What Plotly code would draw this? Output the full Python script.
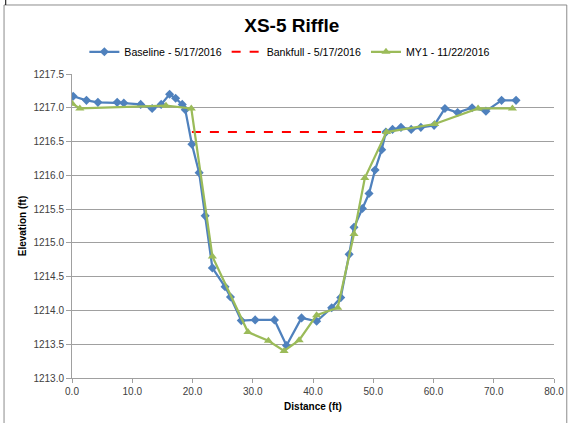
import plotly.graph_objects as go

# Survey stations (ft) and elevations (ft)
baseline_x = [0.2, 2.4, 4.3, 7.5, 8.6, 11.4, 13.3, 14.8, 16.2, 17.2, 18.3, 18.8,
              19.9, 21.1, 22.1, 23.3, 25.4, 26.3, 28.1, 30.4, 33.6, 35.6, 38.1,
              40.6, 43.1, 44.6, 46.0, 46.8, 48.2, 49.3, 50.3, 51.4, 52.1, 53.2,
              54.6, 56.3, 57.9, 60.1, 61.9, 64.0, 66.4, 68.7, 71.3, 73.7]
baseline_y = [1217.17, 1217.11, 1217.08, 1217.08, 1217.07, 1217.05, 1216.99,
              1217.05, 1217.20, 1217.14, 1217.05, 1216.97, 1216.46, 1216.04,
              1215.40, 1214.63, 1214.35, 1214.20, 1213.85, 1213.86, 1213.86,
              1213.48, 1213.89, 1213.84, 1214.04, 1214.19, 1214.83, 1215.23,
              1215.51, 1215.73, 1216.08, 1216.38, 1216.64, 1216.68, 1216.71,
              1216.68, 1216.71, 1216.74, 1216.99, 1216.93, 1217.00, 1216.95,
              1217.11, 1217.11]

bankfull_x = [19.9, 52.1]
bankfull_y = [1216.64, 1216.64]

my1_x = [0.05, 1.3, 15.6, 19.8, 23.3, 29.2, 32.6, 35.2, 37.7, 40.6, 44.1,
         46.8, 48.6, 52.2, 60.2, 67.4, 73.1]
my1_y = [1217.06, 1216.99, 1217.03, 1216.99, 1214.80, 1213.68, 1213.55,
         1213.40, 1213.56, 1213.93, 1214.04, 1215.13, 1215.96, 1216.64,
         1216.76, 1216.99, 1216.99]

x_ticks = [0, 10, 20, 30, 40, 50, 60, 70, 80]
y_ticks = [1213.0, 1213.5, 1214.0, 1214.5, 1215.0, 1215.5, 1216.0, 1216.5, 1217.0, 1217.5]

FONT = "Liberation Sans, Arial, sans-serif"
TEXT = "#404040"
GRID = "#A0A0A0"

fig = go.Figure()
fig.add_trace(go.Scatter(
    x=baseline_x, y=baseline_y, mode="lines+markers",
    name="Baseline - 5/17/2016",
    line=dict(color="#4F81BD", width=2.25),
    marker=dict(symbol="diamond", size=7, color="#4F81BD"),
))
fig.add_trace(go.Scatter(
    x=bankfull_x, y=bankfull_y, mode="lines",
    name="Bankfull - 5/17/2016",
    line=dict(color="#FF0000", width=2, dash="dash"),
))
fig.add_trace(go.Scatter(
    x=my1_x, y=my1_y, mode="lines+markers",
    name="MY1 - 11/22/2016",
    line=dict(color="#9BBB59", width=2.25),
    marker=dict(symbol="triangle-up", size=8, color="#9BBB59"),
))

# outer chart frame
fig.add_shape(type="rect", xref="paper", yref="paper",
              x0=-0.141, x1=1.0265, y0=-0.15, y1=1.227,
              line=dict(color="#8C8C8C", width=1), layer="above")
fig.add_shape(type="line", xref="paper", yref="paper",
              x0=-0.1375, x1=-0.1375, y0=1.227, y1=1.25,
              line=dict(color="#000000", width=1), layer="above")

fig.update_layout(
    width=568, height=423,
    margin=dict(l=72, r=14, t=74, b=45, autoexpand=False),
    paper_bgcolor="white", plot_bgcolor="white",
    font=dict(family=FONT, size=10, color=TEXT),
    title=dict(text="<b>XS-5 Riffle</b>", x=0.456, xref="paper", xanchor="center",
               y=0.94, yref="container", yanchor="middle",
               font=dict(size=19, color="#000000", family=FONT)),
    legend=dict(orientation="h", x=0.452, xanchor="center", y=1.073, yref="paper",
                yanchor="middle", xref="paper",
                font=dict(size=10.6, color="#000000", family=FONT),
                itemwidth=30, bgcolor="rgba(0,0,0,0)"),
    showlegend=True,
)
fig.update_xaxes(
    range=[0, 80], tickvals=x_ticks, tickformat=".1f", tickangle=0,
    showgrid=False, zeroline=False,
    showline=True, linecolor=GRID, linewidth=1,
    ticks="outside", ticklen=4, tickcolor=GRID,
    tickfont=dict(size=10, color=TEXT),
    title=dict(text="<b>Distance (ft)</b>", standoff=6,
               font=dict(size=10, color="#000000")),
)
fig.update_yaxes(
    range=[1213.0, 1217.5], tickvals=y_ticks, tickformat=".1f",
    showgrid=True, gridcolor=GRID, gridwidth=1, zeroline=False,
    showline=True, linecolor=GRID, linewidth=1,
    ticks="outside", ticklen=5, tickcolor=GRID,
    tickfont=dict(size=10, color=TEXT),
    title=dict(text="<b>Elevation (ft)</b>", standoff=4,
               font=dict(size=10, color="#000000")),
)

fig.write_html("out.html")
